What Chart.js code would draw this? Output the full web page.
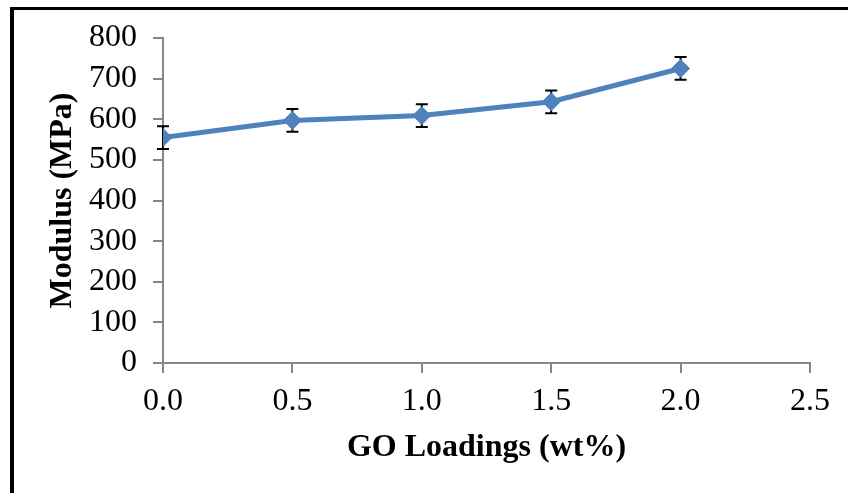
<!DOCTYPE html>
<html>
<head>
<meta charset="utf-8">
<script src="https://cdn.jsdelivr.net/npm/chart.js@4"></script>
<style>
  body { margin: 0; background: #fff; }
  #wrap { position: relative; width: 848px; height: 493px; }
  /* black frame: only top and left edges are visible */
  #frame { position: absolute; left: 10px; top: 7px; right: -10px; bottom: -10px;
           border-top: 3px solid #000; border-left: 4px solid #000; pointer-events: none; }
</style>
</head>
<body>
<div id="wrap">
  <canvas id="chart"></canvas>
  <div id="frame"></div>
</div>
<script>
// GO loading (wt%) on x, modulus (MPa) on y, with +/- error per point
const loadings = [0.0, 0.5, 1.0, 1.5, 2.0];
const modulus = [555, 597, 609, 643, 725];
const modulusError = [28, 28, 28, 28, 28];
const xTicks = [0.0, 0.5, 1.0, 1.5, 2.0, 2.5];
const yTicks = [0, 100, 200, 300, 400, 500, 600, 700, 800];

const axisGray = '#878787';
const serif = "'Liberation Serif', 'Times New Roman', serif";

// simple error bar plugin, drawn under the markers
const errorBars = {
    id: 'errorBars',
    beforeDatasetsDraw(chart) {
        const ctx = chart.ctx;
        const xs = chart.scales.x;
        const ys = chart.scales.y;
        ctx.save();
        ctx.strokeStyle = '#000';
        ctx.lineWidth = 2;
        loadings.forEach((x, i) => {
            const px = xs.getPixelForValue(x);
            const top = ys.getPixelForValue(modulus[i] + modulusError[i]);
            const bottom = ys.getPixelForValue(modulus[i] - modulusError[i]);
            ctx.beginPath();
            ctx.moveTo(px, top);
            ctx.lineTo(px, bottom);
            ctx.moveTo(px - 6, top);
            ctx.lineTo(px + 6, top);
            ctx.moveTo(px - 6, bottom);
            ctx.lineTo(px + 6, bottom);
            ctx.stroke();
        });
        ctx.restore();
    }
};

const ctx = document.getElementById('chart').getContext('2d');
const myChart = new Chart(ctx, {
    type: 'line',
    data: {
        datasets: [{
            label: 'Modulus',
            data: loadings.map((x, i) => ({x: x, y: modulus[i]})),
            borderColor: '#4F81BD',
            backgroundColor: '#4F81BD',
            borderWidth: 5,
            pointStyle: 'rectRot',
            pointRadius: 9,
            pointBorderWidth: 1,
            tension: 0
        }]
    },
    options: {
        responsive: true,
        maintainAspectRatio: false,
        animation: false,
        layout: {padding: {left: 0, top: 38, right: 38, bottom: 0}},
        plugins: {legend: {display: false}, tooltip: {enabled: false}},
        scales: {
            x: {
                type: 'linear',
                min: 0,
                max: 2.5,
                afterFit: (scale) => { scale.height = 130; },
                afterBuildTicks: (scale) => { scale.ticks = xTicks.map(v => ({value: v})); },
                border: {color: axisGray, width: 2},
                grid: {drawOnChartArea: false, color: axisGray, lineWidth: 2, tickLength: 10},
                ticks: {
                    color: '#000',
                    padding: 9,
                    maxRotation: 0,
                    autoSkip: false,
                    font: {family: serif, size: 32},
                    callback: (v) => Number(v).toFixed(1)
                },
                title: {
                    display: true,
                    text: 'GO Loadings (wt%)',
                    color: '#000',
                    font: {family: serif, size: 32, weight: 'bold'},
                    padding: {top: 0, bottom: 26}
                }
            },
            y: {
                min: 0,
                max: 800,
                afterFit: (scale) => { scale.width = 163; },
                afterBuildTicks: (scale) => { scale.ticks = yTicks.map(v => ({value: v})); },
                border: {color: axisGray, width: 2},
                grid: {drawOnChartArea: false, color: axisGray, lineWidth: 2, tickLength: 10},
                ticks: {
                    color: '#000',
                    padding: 16,
                    autoSkip: false,
                    font: {family: serif, size: 32}
                },
                title: {
                    display: true,
                    text: 'Modulus (MPa)',
                    color: '#000',
                    font: {family: serif, size: 32, weight: 'bold'},
                    padding: {top: 44, bottom: 0}
                }
            }
        }
    },
    plugins: [errorBars]
});
</script>
</body>
</html>
